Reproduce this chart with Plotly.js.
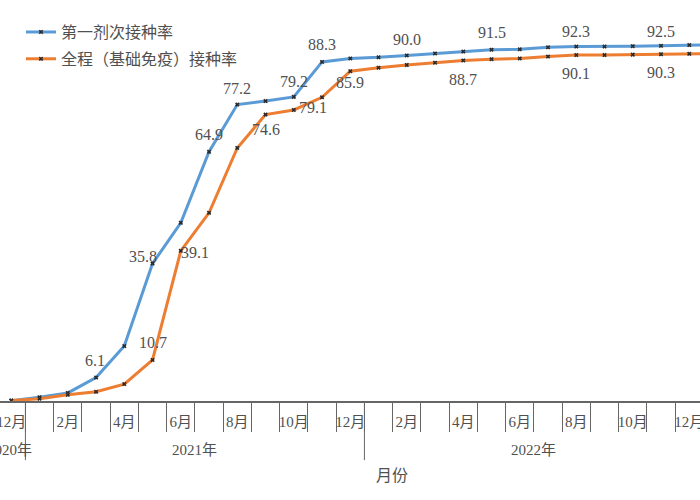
<!DOCTYPE html>
<html>
<head>
<meta charset="utf-8">
<script src="https://cdn.plot.ly/plotly-3.0.1.min.js"></script>
<style>html,body{margin:0;padding:0;background:#fff;}#chart{width:700px;height:500px;}</style>
</head>
<body>
<div id="chart"></div>
<script>
// Months from Dec 2020 to Jan 2023
const months = ['12月','1月','2月','3月','4月','5月','6月','7月','8月','9月','10月','11月','12月',
                '1月','2月','3月','4月','5月','6月','7月','8月','9月','10月','11月','12月','1月'];
const firstDose = [0.1, 1.0, 2.1, 6.1, 14.3, 35.8, 46.4, 64.9, 77.2, 78.1, 79.2, 88.3, 89.2,
                   89.5, 90.0, 90.5, 91.0, 91.5, 91.6, 92.1, 92.3, 92.3, 92.4, 92.5, 92.7, 92.8];
const fullDose  = [0.1, 0.6, 1.6, 2.4, 4.4, 10.7, 39.1, 49.0, 65.9, 74.6, 75.8, 79.1, 85.9,
                   86.8, 87.5, 88.1, 88.7, 89.0, 89.2, 89.7, 90.1, 90.1, 90.2, 90.3, 90.4, 90.5];
const seriesNames = ['第一剂次接种率', '全程（基础免疫）接种率'];
const years = ['2020年', '2021年', '2022年'];
const yearSpans = [[0, 0], [1, 12], [13, 24]];
const xTitle = '月份';
const firstLabelIdx = [3, 5, 7, 8, 10, 11, 14, 17, 20, 23];
const fullLabelIdx = [5, 6, 9, 11, 12, 16, 20, 23];

// label offsets (styling)
const firstOffsets = [[-1,17],[-10,7],[0,17],[0,16],[0,15],[0,17],[0,16],[0,17],[0,15],[0,14]];
const fullOffsets = [[0,17],[14,-2],[0,-15],[-9,-10],[0,-11],[0,-19],[0,-18],[0,-18]];

const xs = months.map((m, i) => i);
const blue = '#5b9bd5', orange = '#ed7d31';
const serif = 'Liberation Serif, Noto Sans CJK SC, serif';
const txtColor = '#505050';

const mk = {symbol: 'x', size: 4, color: '#2a2a2a'};
const traces = [
  {x: xs, y: firstDose, name: seriesNames[0], mode: 'lines+markers', legendgroup: 'a',
   line: {color: blue, width: 3}, marker: mk, cliponaxis: false, hoverinfo: 'skip'},
  {x: xs, y: fullDose, name: seriesNames[1], mode: 'lines+markers', legendgroup: 'b',
   line: {color: orange, width: 3}, marker: mk, cliponaxis: false, hoverinfo: 'skip'}
];

const annotations = [];
firstLabelIdx.forEach((idx, k) => annotations.push({
  x: idx, y: firstDose[idx], xref: 'x', yref: 'y', text: firstDose[idx].toFixed(1),
  showarrow: false, xshift: firstOffsets[k][0], yshift: firstOffsets[k][1],
  font: {family: serif, size: 16, color: txtColor}
}));
fullLabelIdx.forEach((idx, k) => annotations.push({
  x: idx, y: fullDose[idx], xref: 'x', yref: 'y', text: fullDose[idx].toFixed(1),
  showarrow: false, xshift: fullOffsets[k][0], yshift: fullOffsets[k][1],
  font: {family: serif, size: 16, color: txtColor}
}));
years.forEach((yr, k) => annotations.push({
  x: (yearSpans[k][0] + yearSpans[k][1]) / 2 - (k === 0 ? 0.05 : 0), y: -0.128,
  xref: 'x', yref: 'paper', text: yr, showarrow: false, yanchor: 'middle',
  font: {family: serif, size: 15, color: txtColor}
}));
annotations.push({x: 13.48, y: -0.193, xref: 'x', yref: 'paper', text: xTitle, showarrow: false,
  yanchor: 'middle', font: {family: serif, size: 16, color: txtColor}});

const shapes = [0.5, 12.5].map(v => ({type: 'line', xref: 'x', yref: 'paper', x0: v, x1: v,
  y0: 0, y1: -0.154, line: {color: '#666', width: 1}}));

const tickIdx = xs.filter(i => i % 2 === 0 && i <= 24);
const layout = {
  width: 700, height: 500,
  margin: {l: 0, r: 0, t: 17, b: 99},
  paper_bgcolor: '#fff', plot_bgcolor: '#fff',
  showlegend: true,
  legend: {x: 0.03, y: 1.005, xanchor: 'left', yanchor: 'top', itemwidth: 30, tracegroupgap: 3,
           bgcolor: 'rgba(0,0,0,0)', font: {family: 'Noto Sans CJK SC', size: 16, color: txtColor}},
  xaxis: {range: [-0.40, 24.38], tickmode: 'array', tickvals: tickIdx,
          ticktext: tickIdx.map(i => months[i]), ticks: '', ticklabelstandoff: 6,
          ticklabeloverflow: 'allow',
          tickfont: {family: serif, size: 15, color: txtColor},
          showgrid: false, zeroline: false, showline: true, linecolor: '#666', linewidth: 1.5,
          minor: {ticks: 'outside', tick0: 0.5, dtick: 1, ticklen: 29, tickcolor: '#666', tickwidth: 1, showgrid: false}},
  yaxis: {range: [0, 100], visible: false, showgrid: false, zeroline: false},
  annotations: annotations,
  shapes: shapes
};

Plotly.newPlot('chart', traces, layout, {displayModeBar: false, staticPlot: true});
</script>
</body>
</html>
